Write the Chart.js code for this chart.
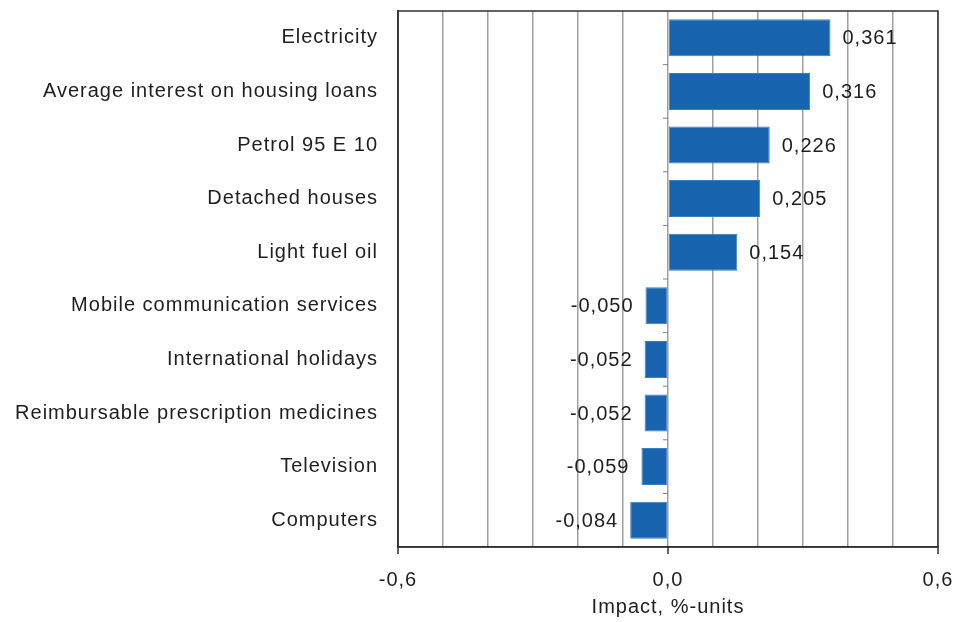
<!DOCTYPE html>
<html>
<head>
<meta charset="utf-8">
<script src="https://cdn.jsdelivr.net/npm/chart.js@4/dist/chart.umd.min.js"></script>
<style>
    html, body { margin: 0; padding: 0; background: #ffffff; }
    #wrap { width: 958px; height: 622px; }
</style>
</head>
<body>
<div id="wrap"><canvas id="chart"></canvas></div>
<script>
const categories = [
    'Electricity',
    'Average interest on housing loans',
    'Petrol 95 E 10',
    'Detached houses',
    'Light fuel oil',
    'Mobile communication services',
    'International holidays',
    'Reimbursable prescription medicines',
    'Television',
    'Computers',
];
const impactValues = [0.361, 0.316, 0.226, 0.205, 0.154, -0.050, -0.052, -0.052, -0.059, -0.084];
const xTickLabels = [-0.6, 0.0, 0.6];

const FONT = '"Liberation Sans", Arial, sans-serif';
const TEXT = '#1e1e1e';
const SPACING = '1px';

function fmt(v) {
    return v.toFixed(3).replace('.', ',');
}

function isLabelled(v) {
    return xTickLabels.some((t) => Math.abs(t - v) < 1e-6);
}

// the original text is a little loose
const spacingPlugin = {
    id: 'spacing',
    beforeUpdate(chart) { chart.ctx.letterSpacing = SPACING; },
    beforeLayout(chart) { chart.ctx.letterSpacing = SPACING; },
    beforeDraw(chart) { chart.ctx.letterSpacing = SPACING; },
};

const framePlugin = {
    id: 'frame',
    afterDraw(chart) {
        const { ctx, chartArea } = chart;
        const x = chart.scales.x;
        const y = chart.scales.y;
        ctx.save();
        ctx.strokeStyle = '#303030';
        ctx.lineWidth = 1.5;
        ctx.strokeRect(chartArea.left, chartArea.top, chartArea.right - chartArea.left, chartArea.bottom - chartArea.top);
        // short ticks under the labelled values
        xTickLabels.forEach((t) => {
            const px = x.getPixelForValue(t);
            ctx.beginPath();
            ctx.moveTo(px, chartArea.bottom);
            ctx.lineTo(px, chartArea.bottom + 7);
            ctx.stroke();
        });
        // small category ticks on the zero line
        const x0 = x.getPixelForValue(0);
        ctx.strokeStyle = '#808080';
        ctx.lineWidth = 1;
        for (let i = 1; i < categories.length; i++) {
            const yy = (y.getPixelForValue(i - 1) + y.getPixelForValue(i)) / 2;
            ctx.beginPath();
            ctx.moveTo(x0 - 5, yy);
            ctx.lineTo(x0, yy);
            ctx.stroke();
        }
        ctx.restore();
    },
};

const valueLabels = {
    id: 'valueLabels',
    afterDatasetsDraw(chart) {
        const { ctx } = chart;
        const meta = chart.getDatasetMeta(0);
        ctx.save();
        ctx.letterSpacing = SPACING;
        ctx.font = '20px ' + FONT;
        ctx.fillStyle = TEXT;
        ctx.textBaseline = 'middle';
        meta.data.forEach((bar, i) => {
            const v = impactValues[i];
            if (v >= 0) {
                ctx.textAlign = 'left';
                ctx.fillText(fmt(v), bar.x + 12, bar.y + 1);
            } else {
                ctx.textAlign = 'right';
                ctx.fillText(fmt(v), bar.x - 12, bar.y + 1);
            }
        });
        ctx.restore();
    },
};

function createChart(chartCanvas) {
    return new Chart(chartCanvas, {
        type: 'bar',
        data: {
            labels: categories,
            datasets: [{
                label: 'Impact',
                data: impactValues,
                backgroundColor: '#1864ae',
                borderColor: '#3c7cc0',
                borderWidth: 1,
                borderSkipped: false,
                barPercentage: 0.69,
                categoryPercentage: 1,
            }],
        },
        options: setupChartOptions(),
        plugins: [spacingPlugin, framePlugin, valueLabels],
    });
};

function setupChartOptions() {
    return {
        indexAxis: 'y',
        responsive: true,
        maintainAspectRatio: false,
        animation: false,
        layout: {
            padding: { top: 10, right: 20, left: 0, bottom: 3 },
        },
        plugins: {
            legend: { display: false },
            title: { display: false },
            tooltip: { enabled: false },
        },
        scales: {
            x: {
                min: -0.6,
                max: 0.6,
                ticks: {
                    stepSize: 0.1,
                    padding: 0,
                    color: TEXT,
                    autoSkip: false,
                    maxRotation: 0,
                    font: { family: FONT, size: 20 },
                    callback: (v) => isLabelled(v) ? v.toFixed(1).replace('.', ',') : '',
                },
                grid: {
                    color: '#a0a0a0',
                    lineWidth: 1.5,
                    tickLength: 21,
                    tickColor: 'rgba(0,0,0,0)',
                },
                border: { color: '#303030', width: 1.5 },
                title: {
                    display: true,
                    text: 'Impact, %-units',
                    color: TEXT,
                    font: { family: FONT, size: 20 },
                    padding: { top: 3, bottom: 0 },
                },
            },
            y: {
                afterFit: (scale) => { scale.width = 398; },
                ticks: {
                    padding: 0,
                    color: TEXT,
                    autoSkip: false,
                    font: { family: FONT, size: 20, lineHeight: 1.1 },
                },
                grid: { display: false, drawTicks: true, tickLength: 20 },
                border: { color: '#303030', width: 1.5 },
            },
        },
    };
};

createChart(document.getElementById('chart'));
</script>
</body>
</html>
